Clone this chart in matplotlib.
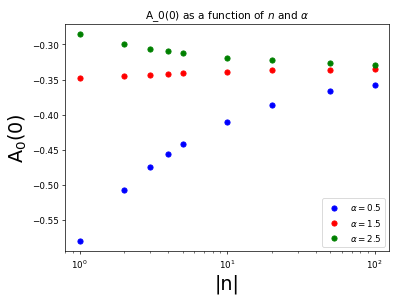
import matplotlib
matplotlib.use("Agg")
import matplotlib.pyplot as plt

n_vals = [1, 2, 3, 4, 5, 10, 20, 50, 100]
a05 = [-0.580, -0.508, -0.475, -0.4555, -0.4425, -0.410, -0.387, -0.367, -0.3575]
a15 = [-0.348, -0.345, -0.343, -0.3415, -0.3405, -0.339, -0.337, -0.336, -0.335]
a25 = [-0.2855, -0.2995, -0.3065, -0.310, -0.3125, -0.319, -0.322, -0.327, -0.329]
labels = [r'$\alpha=0.5$', r'$\alpha=1.5$', r'$\alpha=2.5$']
colors = ['blue', 'red', 'green']

fig = plt.figure(figsize=(6.4, 4.8), dpi=401/6.4)
ax = fig.add_subplot(111)
for ys, lab, c in zip([a05, a15, a25], labels, colors):
    ax.plot(n_vals, ys, 'o', color=c, label=lab)
ax.set_xscale('log')
ax.set_title(r'A_0(0) as a function of $n$ and $\alpha$')
ax.set_xlabel('|n|', fontsize=22)
ax.set_ylabel(r'A$_0$(0)', fontsize=22)
ax.legend(loc='lower right')
fig.subplots_adjust(left=0.162, right=0.971, bottom=0.162, top=0.918)
fig.savefig('out.png', dpi=401/6.4)
